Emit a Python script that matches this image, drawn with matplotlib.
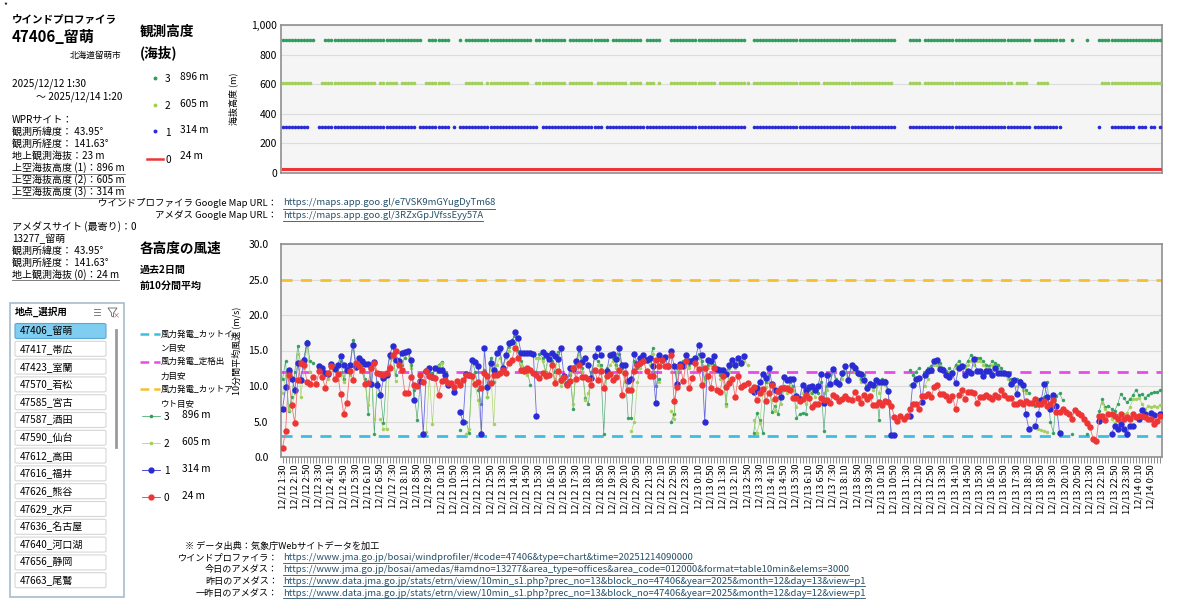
import matplotlib
matplotlib.use("Agg")
import matplotlib.pyplot as plt
from matplotlib.lines import Line2D
from matplotlib.patches import Rectangle, FancyBboxPatch, Polygon
import numpy as np

plt.rcParams["font.family"] = ["Noto Sans CJK JP", "DejaVu Sans"]

W, H = 1200, 612

# 10-minute observations, 12/12 1:30 .. 12/14 1:20
times = []
for k in range(288):
    m = 90 + 10 * k
    times.append(f"12/{12 + m // 1440} {(m % 1440) // 60}:{m % 60:02d}")

heights = [896, 605, 314, 24]
height_names = ["3", "2", "1", "0"]

cut_in = 3.0
rated = 12.0
cut_out = 25.0

wind_24 = [
    1.3, 3.6, 11.5, 7.3, 4.8, 10.9, 13.2, 12.9, 10.6, 10.3, 11.3, 10.3,
    12.1, 11.3, 9.7, 11.9, 12.8, 11.0, 11.7, 8.9, 6.1, 7.6, 12.1, 10.9,
    13.3, 12.8, 12.3, 10.3, 10.4, 12.5, 13.3, 11.9, 11.7, 11.5, 11.8, 12.5,
    14.3, 14.9, 12.9, 12.3, 9.0, 9.0, 11.3, 10.1, 10.0, 11.5, 10.6, 12.1,
    11.4, 11.3, 11.1, 8.8, 10.7, 10.8, 10.4, 10.4, 9.8, 10.7, 10.2, 10.8,
    11.6, 11.5, 11.4, 10.3, 10.6, 9.7, 11.9, 11.4, 10.4, 11.5, 11.6, 11.8,
    12.3, 11.9, 13.2, 13.7, 15.4, 13.9, 12.3, 12.1, 12.5, 12.3, 11.8, 11.5,
    11.1, 11.8, 11.4, 11.5, 13.0, 10.4, 12.1, 10.9, 11.2, 10.2, 10.7, 12.5,
    11.0, 13.0, 11.3, 11.2, 11.0, 10.2, 12.2, 10.8, 12.1, 9.7, 11.4, 11.7,
    10.9, 11.2, 12.2, 8.7, 11.8, 9.5, 9.4, 12.1, 12.9, 13.2, 13.5, 12.1,
    11.4, 11.4, 13.7, 12.8, 13.6, 12.8, 12.8, 14.4, 7.9, 9.8, 12.8, 10.7,
    13.5, 9.7, 11.1, 13.2, 12.4, 10.2, 12.5, 11.4, 9.7, 12.5, 9.4, 9.1,
    11.4, 9.9, 10.4, 11.0, 8.4, 11.4, 9.9, 10.2, 10.4, 9.5, 9.8, 8.0,
    9.0, 9.6, 7.9, 9.0, 10.2, 8.2, 9.3, 9.7, 9.7, 9.7, 9.4, 8.3,
    8.3, 7.9, 8.1, 8.8, 8.3, 7.0, 7.4, 7.5, 8.3, 8.0, 8.0, 7.6,
    8.7, 8.5, 7.9, 8.2, 8.6, 8.2, 8.0, 9.2, 8.3, 7.6, 8.7, 8.2,
    8.6, 7.3, 7.3, 7.8, 7.3, 7.9, 7.8, 7.2, 5.7, 5.1, 5.8, 5.3,
    5.8, 6.7, 7.5, 7.5, 6.7, 8.6, 8.6, 8.9, 8.4, 9.8, 10.2, 8.9,
    8.9, 8.6, 8.0, 8.6, 6.7, 8.7, 9.5, 8.2, 9.2, 9.1, 9.0, 7.6,
    8.4, 8.5, 8.7, 8.4, 8.1, 8.7, 8.4, 9.4, 8.8, 8.3, 8.3, 7.5,
    7.5, 7.7, 7.5, 7.9, 7.6, 7.6, 8.1, 7.5, 7.5, 7.9, 7.2, 7.4,
    8.0, 6.4, 6.4, 6.7, 6.4, 6.1, 5.4, 6.6, 6.2, 5.9, 5.4, 4.8,
    4.2, 2.5, 2.3, 5.8, 5.8, 5.2, 6.0, 6.1, 5.8, 5.4, 6.0, 5.4,
    5.6, 5.4, 6.1, 5.7, 5.8, 5.8, 5.7, 5.4, 5.3, 4.7, 5.1, 5.8,
]

wind_314 = [
    6.8, 9.8, 12.2, 11.0, 9.5, 13.2, 10.9, 13.6, 16.1, None, None, None,
    12.8, 12.5, 11.9, 11.7, 13.1, 12.4, 12.9, 14.2, 13.0, 12.3, 13.0, 15.8,
    12.7, 14.0, 13.5, 13.1, 13.1, 10.3, 13.4, 10.1, 8.7, 11.1, 11.5, 14.4,
    15.6, 13.6, 13.5, 14.7, 14.8, 15.0, 13.7, 8.0, None, 10.7, 3.3, 12.1,
    12.6, 11.3, 12.6, 12.2, 12.2, 11.5, 10.1, None, 9.1, None, 6.3, 4.9,
    11.7, 11.5, 13.6, 13.4, 12.8, 3.2, 15.3, 9.9, 13.2, 12.3, 14.6, 15.3,
    12.5, 14.4, 16.1, 16.2, 17.6, 16.8, 14.7, 14.7, 14.7, 14.7, 14.5, 5.8,
    None, 14.8, 14.4, 13.8, 14.7, 14.2, 13.8, 15.3, 11.4, 10.3, 12.6, 12.4,
    13.5, 15.3, 13.4, 14.0, 12.9, 11.1, 14.2, 15.4, 14.3, None, 12.1, 14.4,
    14.5, 13.8, 15.3, 12.9, 12.9, 10.7, 11.0, 14.5, 13.1, 14.0, 14.4, 13.6,
    14.0, 12.8, 7.6, 14.3, 13.7, 14.1, 12.8, 15.0, 12.8, 10.3, 13.1, 12.8,
    14.4, 13.5, 13.5, 13.9, 15.8, 14.3, 5.0, 13.6, 13.5, 14.2, 12.4, 12.3,
    12.2, 11.7, 13.0, 13.7, 13.0, 14.0, 13.2, 14.2, None, None, 9.1, 9.7,
    10.5, 11.7, 11.1, 12.5, 10.3, 9.5, 9.3, 8.5, 11.3, 10.9, 11.0, 11.0,
    8.6, 8.2, 10.2, 9.4, 9.8, 10.0, 9.5, 10.0, 11.7, 7.6, 11.5, 10.3,
    12.4, 10.6, 10.3, 11.8, 12.8, 10.8, 13.0, 12.5, 11.8, 11.7, 10.8, 9.7,
    10.3, 10.2, 10.9, 10.5, 10.6, 10.5, 9.3, 3.1, 3.1, None, None, None,
    None, 5.8, 10.2, 11.0, 11.1, 7.8, 11.5, 12.1, 12.3, 13.5, 13.6, 12.4,
    12.2, 11.5, 11.3, 11.8, 10.4, 12.5, 12.8, 11.6, 12.1, 11.8, 13.8, 12.1,
    12.1, 11.4, 12.1, 12.1, 11.5, 12.5, 11.8, 11.9, 11.8, 11.7, 10.3, 10.8,
    8.9, 10.6, 10.1, 6.0, 3.9, None, 4.3, 6.1, 8.0, 10.3, 8.5, 6.7,
    8.8, 7.2, 3.4, None, None, None, None, None, None, None, None, None,
    None, None, None, 5.1, None, None, None, 3.3, 4.3, 4.0, 4.6, 4.0,
    3.2, 4.4, 4.3, None, 5.3, 6.6, 6.0, None, 6.2, 5.9, None, 6.0,
]

wind_605 = [
    9.0, 11.5, 6.6, 7.0, 9.0, 14.5, 8.5, 12.5, 15.5, 12.0, None, None,
    None, 12.5, 11.8, 11.0, 12.5, 13.0, 10.8, 11.5, 10.5, 12.0, 11.5, 16.0,
    12.5, 13.5, 12.0, 10.5, 7.3, 13.0, 5.3, None, 5.4, 3.9, 4.0, 13.0,
    14.0, 10.7, None, 13.2, 14.5, 14.5, 12.5, 10.0, None, None, None, 3.5,
    11.5, 4.6, 11.2, 12.8, 13.3, 11.5, 10.4, None, None, None, None, None,
    3.2, 4.0, 11.0, 10.0, 8.0, 3.5, None, 8.5, 13.0, 4.6, 13.0, 14.0,
    12.0, 14.0, 15.0, 16.0, 16.0, 14.0, 13.0, 12.0, 11.5, None, None, 14.0,
    14.0, 13.5, 11.8, 14.0, 13.0, 11.0, 14.5, 10.0, 10.5, None, 12.0, 7.4,
    12.5, 14.5, 12.0, 8.0, 9.0, 11.5, None, 13.0, 12.5, 10.0, 12.0, 13.0,
    13.5, 12.5, 14.0, 12.0, 10.5, None, 3.6, 4.9, 10.5, 12.5, None, 13.5,
    13.0, 14.5, None, 10.5, None, None, None, 6.5, 5.3, 12.0, 12.5, 13.0,
    13.5, 12.5, 13.5, 12.8, 14.0, 13.0, 10.5, 12.5, 13.0, 12.5, None, 11.0,
    11.5, 7.2, 12.0, 13.0, 12.5, 13.5, 13.0, 13.5, 13.0, None, 5.2, 3.4,
    4.8, 9.0, 9.8, 10.5, 8.0, 6.5, 8.5, 7.5, 9.5, 9.0, 10.0, 9.5,
    7.0, 8.5, 9.0, 7.5, 9.0, 9.5, 8.5, 9.8, None, 9.0, 9.5, 10.5,
    12.0, 10.5, 10.0, 11.0, 12.0, 10.5, 12.5, 12.0, 11.5, 10.5, 11.0, 9.5,
    10.0, 9.5, 9.8, 9.0, 10.5, 10.2, 9.0, 3.1, None, None, None, None,
    None, 10.2, 10.0, 10.5, 11.0, None, 10.0, 11.0, 12.5, 13.0, 13.0, 12.8,
    12.0, 11.5, 12.0, 11.5, 12.5, 13.0, 12.5, 12.5, 13.0, 13.5, 13.0, 13.5,
    13.5, 13.0, 12.5, 12.5, 13.0, 12.8, 12.5, 12.0, 11.5, 11.0, 10.5, None,
    10.0, 10.2, 9.5, 9.0, None, None, None, 4.0, 3.8, 3.7, 3.5, None,
    None, None, None, None, None, None, None, None, None, None, None, None,
    None, None, None, None, 7.6, 6.8, 6.0, 5.4, 4.8, 5.3, 5.8, 6.0,
    6.2, 7.0, 8.1, 8.2, 8.3, 7.5, 6.7, 7.2, 7.0, 7.2, 7.1, 7.3,
]

wind_896 = [
    11.0, 13.5, 6.5, 8.5, 12.0, 15.7, 13.0, 14.0, 16.3, 13.5, 13.3, None,
    None, None, 12.0, 11.5, 13.0, 12.8, 11.5, 13.5, 11.0, 12.5, 12.0, 16.5,
    13.0, 13.8, 13.0, 11.0, 6.0, 12.5, 3.3, 10.5, 9.0, 4.8, 11.5, 14.0,
    14.5, 11.5, 13.5, 13.0, 14.0, 14.8, 13.0, 9.5, 5.2, 10.5, None, None,
    12.0, 11.8, 12.5, 13.0, 13.4, 12.0, 10.5, None, None, None, 3.8, None,
    5.0, 3.4, 13.5, 12.0, 9.5, 7.5, 12.2, 8.5, 14.0, 10.5, 14.5, 15.0,
    12.5, 14.5, 15.5, 16.5, 17.0, 15.0, 13.5, 12.5, 12.0, 10.2, None, 12.0,
    14.5, 14.0, 12.0, 14.5, 13.5, 12.0, 14.8, 10.5, 11.0, None, 11.5, 6.8,
    13.0, 15.0, 12.5, 8.3, 7.4, 12.0, 14.0, 13.5, 13.0, 3.3, 12.5, None,
    14.0, 13.0, 14.5, 12.5, 12.0, 5.5, 5.5, 13.5, 12.5, 13.0, None, 14.0,
    13.5, 15.3, 10.0, 11.0, None, None, None, 4.9, 6.0, 12.5, 13.0, 13.5,
    14.0, 13.0, 13.8, 13.5, 14.5, 13.5, 11.0, 13.0, 13.5, 13.0, 12.5, 11.5,
    12.0, 7.5, 12.5, 13.5, 13.0, 14.0, 13.5, 14.0, None, None, 3.4, 6.2,
    5.2, 3.4, 10.5, 11.5, 6.3, 7.2, 6.0, 8.5, 10.0, 9.5, 10.5, 10.0,
    5.5, 6.0, 6.2, 6.0, 9.5, 9.0, 9.3, 9.0, 10.5, 3.6, 10.0, 11.5,
    12.5, 11.0, 10.5, 11.5, 12.5, 11.0, 13.0, 12.8, 12.0, 11.0, 11.5, 10.0,
    10.5, 10.0, 10.0, 5.2, 11.0, 10.8, 9.5, 3.1, 3.1, None, None, None,
    None, 12.3, 11.5, 12.0, 12.5, None, 12.0, 12.5, 12.8, 13.5, 13.0, 13.3,
    12.5, 12.0, 12.5, 12.0, 13.0, 13.5, 13.0, 12.8, 13.5, 14.3, 13.8, 14.0,
    14.0, 13.5, 13.0, 12.8, 13.5, 13.2, 13.0, 12.5, 12.0, 11.5, 11.0, 10.5,
    11.0, 10.8, 10.2, 9.5, 9.0, None, 7.2, 8.1, 8.1, 8.5, 10.5, 5.0,
    3.4, 8.6, 9.0, 8.0, None, None, 3.3, None, None, None, None, 3.3,
    None, None, None, 6.5, 8.1, 7.0, 7.2, 6.8, 6.5, 7.4, 8.9, 8.3,
    7.7, 8.1, 8.7, 9.5, 8.7, 8.9, 8.3, 8.8, 9.0, 9.1, 9.2, 9.4,
]

stations = ["47406_留萌", "47417_帯広", "47423_室蘭", "47570_若松", "47585_宮古",
            "47587_酒田", "47590_仙台", "47612_高田", "47616_福井", "47626_熊谷",
            "47629_水戸", "47636_名古屋", "47640_河口湖", "47656_静岡", "47663_尾鷲"]

c_dg, c_lg, c_bl, c_rd = "#2f9e5c", "#a2cf5a", "#2b2bd6", "#ee3535"
c_cyan, c_mag, c_org = "#3fbfe0", "#e84ce8", "#f5c02e"
link = "#26506a"

fig = plt.figure(figsize=(12, 6.12), dpi=100)


def put(x, y, s, **kw):
    kw.setdefault("fontsize", 7.2)
    kw.setdefault("va", "center")
    return fig.text(x / W, 1 - y / H, s, **kw)


def fline(x0, x1, y0, y1, **kw):
    fig.add_artist(Line2D([x0 / W, x1 / W], [1 - y0 / H, 1 - y1 / H], **kw))


underlined = []

# ---- left info column
put(3, 6, "*", fontsize=6)
put(12, 19, "ウインドプロファイラ", fontsize=7.6, weight="bold")
put(12, 37, "47406_留萌", fontsize=10.8, weight="bold")
put(121, 55, "北海道留萌市", fontsize=6.2, ha="right")
put(12, 84, "2025/12/12 1:30")
put(36, 97, "～ 2025/12/14 1:20")
info1 = ["WPRサイト：", "観測所緯度： 43.95°", "観測所経度： 141.63°", "地上観測海抜：23 m",
         "上空海抜高度 (1)：896 m", "上空海抜高度 (2)：605 m", "上空海抜高度 (3)：314 m"]
for k, s in enumerate(info1):
    y = 120 + k * 12
    t = put(12, y, s)
    if k >= 4:
        underlined.append((t, y + 5.5, "#666666"))
info2 = ["アメダスサイト (最寄り)：0", "13277_留萌", "観測所緯度： 43.95°", "観測所経度： 141.63°",
         "地上観測海抜 (0)：24 m"]
for k, s in enumerate(info2):
    y = 227 + k * 12
    t = put(12, y, s)
    if k == 4:
        underlined.append((t, y + 5.5, "#666666"))

# ---- slicer
fig.add_artist(Rectangle((10 / W, 1 - 597 / H), 114 / W, 294 / H, transform=fig.transFigure,
                         facecolor="white", edgecolor="#a8bccb", lw=1.2))
put(15, 312, "地点_選択用", fontsize=6.8, weight="bold")
for k in range(3):
    fline(94, 100, 309 + k * 3, 309 + k * 3, color="#666666", lw=0.6)
fig.add_artist(Polygon([(108 / W, 1 - 308 / H), (117 / W, 1 - 308 / H), (113.5 / W, 1 - 313 / H),
                        (113.5 / W, 1 - 317 / H), (111.5 / W, 1 - 316 / H), (111.5 / W, 1 - 313 / H)],
                       closed=True, transform=fig.transFigure, fill=False, edgecolor="#666666", lw=0.6))
put(116, 315, "×", fontsize=5, color="#d03030", ha="center")
for k, s in enumerate(stations):
    yc = 331 + k * 17.8
    sel = k == 0
    fig.add_artist(FancyBboxPatch((15 / W, 1 - (yc + 7.5) / H), 91 / W, 15 / H,
                                  boxstyle="round,pad=0,rounding_size=0.002",
                                  transform=fig.transFigure,
                                  facecolor="#7fcdf0" if sel else "white",
                                  edgecolor="#5aa8d2" if sel else "#d6d6d6", lw=0.8))
    put(20, yc, s, fontsize=7.2)
fline(116, 116, 330, 447, color="#9a9a9a", lw=2)

# ---- middle column headings and legends
put(140, 32, "観測高度", fontsize=9.8, weight="bold")
put(140, 53, "(海抜)", fontsize=9.8, weight="bold")
leg_cols = [c_dg, c_lg, c_bl]
for k in range(3):
    y = 78 + k * 26.5
    fig.add_artist(Line2D([155 / W], [1 - y / H], marker="o", ms=1.8, color=leg_cols[k], lw=0))
    put(165, y + 1.5, height_names[k], fontsize=7.3)
    put(180, y - 1, f"{heights[k]} m", fontsize=7.3)
fline(147, 163, 159, 159, color=c_rd, lw=1.8)
put(165, 160, height_names[3], fontsize=7.3)
put(180, 156, f"{heights[3]} m", fontsize=7.3)

put(277, 203, "ウインドプロファイラ Google Map URL：", fontsize=6.8, ha="right")
put(277, 215, "アメダス Google Map URL：", fontsize=6.8, ha="right")
t = put(283, 203, "https://maps.app.goo.gl/e7VSK9mGYugDyTm68", fontsize=6.8, color=link)
underlined.append((t, 208.5, link))
t = put(283, 215, "https://maps.app.goo.gl/3RZxGpJVfssEyy57A", fontsize=6.8, color=link)
underlined.append((t, 220.5, link))

put(140, 249, "各高度の風速", fontsize=9.8, weight="bold")
put(140, 270, "過去2日間", fontsize=7.2, weight="bold")
put(140, 286, "前10分間平均", fontsize=7.2, weight="bold")

ref_lines = [(c_cyan, "風力発電_カットイ", "ン目安"), (c_mag, "風力発電_定格出", "力目安"),
             (c_org, "風力発電_カットア", "ウト目安")]
for k, (c, a, b) in enumerate(ref_lines):
    y = 334 + k * 27.5
    fline(140, 160, y, y, color=c, lw=1.8, ls=(0, (3.5, 2)))
    put(161, y, a, fontsize=6.1)
    put(161, y + 15, b, fontsize=6.1)
leg_bottom = [(c_dg, 1.6, 0.5), (c_lg, 1.6, 0.5), (c_bl, 3.5, 0.6), (c_rd, 3.5, 0.6)]
for k, (c, ms, lw) in enumerate(leg_bottom):
    y = 416 + k * 27
    fig.add_artist(Line2D([142 / W, 151 / W, 160 / W], [1 - y / H] * 3, color=c, lw=lw,
                          marker="o", ms=ms, markevery=[1]))
    put(164, y + 1, height_names[k], fontsize=7.3)
    put(182, y - 1, f"{heights[k]} m", fontsize=7.3)

# ---- source text
put(185, 546, "※ データ出典：気象庁Webサイトデータを加工", fontsize=6.6)
src_labels = ["ウインドプロファイラ：", "今日のアメダス：", "昨日のアメダス：", "一昨日のアメダス："]
src_urls = [
    "https://www.jma.go.jp/bosai/windprofiler/#code=47406&type=chart&time=20251214090000",
    "https://www.jma.go.jp/bosai/amedas/#amdno=13277&area_type=offices&area_code=012000&format=table10min&elems=3000",
    "https://www.data.jma.go.jp/stats/etrn/view/10min_s1.php?prec_no=13&block_no=47406&year=2025&month=12&day=13&view=p1",
    "https://www.data.jma.go.jp/stats/etrn/view/10min_s1.php?prec_no=13&block_no=47406&year=2025&month=12&day=12&view=p1",
]
for k in range(4):
    y = 558 + k * 11.7
    put(278, y, src_labels[k], fontsize=6.6, ha="right")
    t = put(283, y, src_urls[k], fontsize=6.8, color=link)
    underlined.append((t, y + 5, link))

x = np.arange(len(times))
series = [wind_896, wind_605, wind_314]
series_f = [np.array([np.nan if v is None else v for v in s], dtype=float) for s in series]
red_f = np.array(wind_24, dtype=float)

# ---- top chart: observed heights
ax1 = fig.add_axes([281 / W, 1 - 173 / H, 881 / W, 148 / H])
ax1.set_facecolor("#f5f5f5")
for k in range(3):
    ok = ~np.isnan(series_f[k])
    ax1.plot(x[ok], np.full(ok.sum(), heights[k]), ls="none", marker="o", ms=1.6,
             color=leg_cols[k], zorder=3)
ax1.plot(x, np.full(len(x), heights[3]), color=c_rd, lw=2.2, zorder=3)
ax1.set_xlim(-0.5, len(x) - 0.5)
ax1.set_ylim(0, 1000)
ax1.set_yticks(range(0, 1001, 200))
ax1.set_yticklabels([f"{v:,}" for v in range(0, 1001, 200)], fontsize=7.5)
ax1.set_xticks([])
ax1.tick_params(axis="y", length=0, pad=3)
ax1.grid(axis="y", color="#dcdcdc", lw=0.8)
ax1.set_axisbelow(True)
ax1.set_ylabel("海抜高度 (m)", fontsize=6.5)
ax1.yaxis.set_label_coords(-0.049, 0.5)
for sp in ax1.spines.values():
    sp.set_color("#8f8f8f")
    sp.set_linewidth(1.2)

# ---- bottom chart: wind speeds
ax2 = fig.add_axes([281 / W, 1 - 457 / H, 881 / W, 213 / H])
ax2.set_facecolor("#f5f5f5")
ax2.axhline(cut_in, color=c_cyan, lw=2, ls=(0, (4, 3)), zorder=2)
ax2.axhline(rated, color=c_mag, lw=2, ls=(0, (4, 3)), zorder=2)
ax2.axhline(cut_out, color=c_org, lw=2, ls=(0, (4, 3)), zorder=2)
ax2.plot(x, series_f[0], color=c_dg, lw=0.45, marker="o", ms=1.5, alpha=0.9, zorder=3)
ax2.plot(x, series_f[1], color=c_lg, lw=0.45, marker="o", ms=1.5, alpha=0.9, zorder=3)
ax2.plot(x, series_f[2], color="#6a6ae2", lw=0.6, marker="o", ms=3.6,
         markerfacecolor=c_bl, markeredgecolor=c_bl, zorder=4)
ax2.plot(x, red_f, color="#f27070", lw=0.6, marker="o", ms=3.6,
         markerfacecolor=c_rd, markeredgecolor=c_rd, zorder=5)
ax2.set_xlim(-0.5, len(x) - 0.5)
ax2.set_ylim(0, 30)
ax2.set_yticks(range(0, 31, 5))
ax2.set_yticklabels([f"{v:.1f}" for v in range(0, 31, 5)], fontsize=7.5)
ax2.tick_params(axis="y", length=0, pad=9)
ax2.set_xticks(x[::4])
ax2.set_xticklabels(times[::4], rotation=90, fontsize=6.7)
ax2.set_xticks(x, minor=True)
ax2.tick_params(axis="x", which="both", length=4, width=0.6, color="#777777", pad=1)
ax2.grid(axis="y", color="#dcdcdc", lw=0.8)
ax2.set_axisbelow(True)
ax2.set_ylabel("10分間平均風速 (m/s)", fontsize=6.5)
ax2.yaxis.set_label_coords(-0.045, 0.5)
for sp in ax2.spines.values():
    sp.set_color("#8f8f8f")
    sp.set_linewidth(1.2)

# underlines under link-like texts
renderer = fig.canvas.get_renderer()
for t, yl, c in underlined:
    bb = t.get_window_extent(renderer)
    fig.add_artist(Line2D([bb.x0 / W, bb.x1 / W], [1 - yl / H] * 2, color=c, lw=0.6))

fig.savefig("out.png", dpi=100)
plt.close(fig)
